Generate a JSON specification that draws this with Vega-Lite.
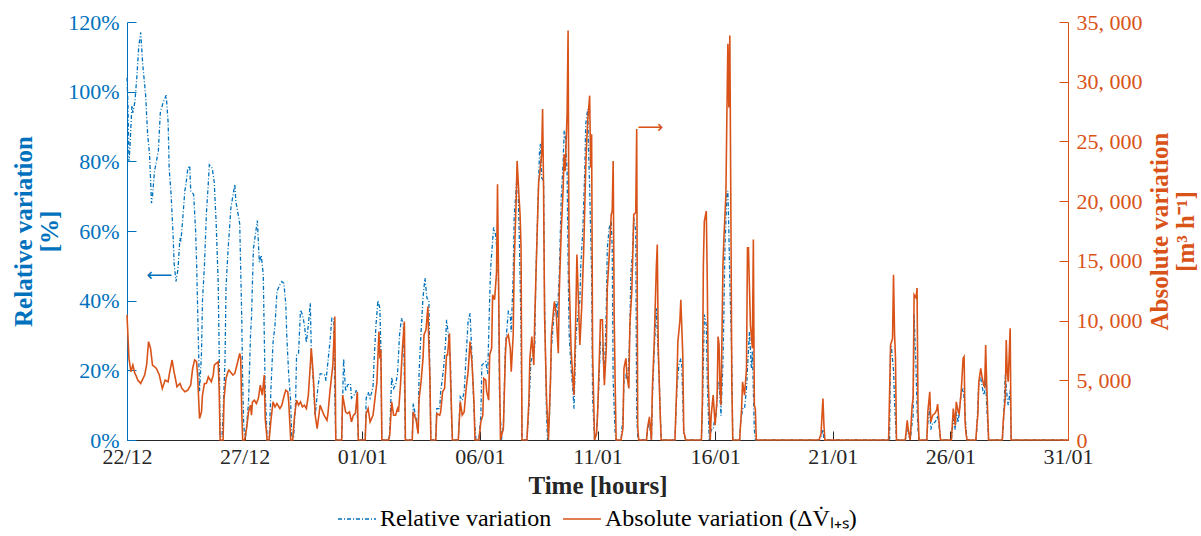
{
 "$schema": "https://vega.github.io/schema/vega-lite/v6.json",
 "width": 941, "height": 418,
 "autosize": {"type": "none"},
 "padding": {"left": 127, "top": 22, "right": 133, "bottom": 96},
 "background": "white",
 "config": {
  "font": "Liberation Serif",
  "view": {"stroke": null},
  "axis": {"grid": false, "labelFont": "Liberation Serif", "labelFontSize": 22, "titleFont": "Liberation Serif", "titleFontSize": 25, "titleFontWeight": "bold", "tickSize": -9, "labelPadding": 17, "domainWidth": 1, "tickWidth": 1, "labelFlush": false, "labelOverlap": false, "titleLineHeight": 26},
  "legend": {"orient": "none", "legendX": 210, "legendY": 477, "direction": "horizontal", "title": null, "symbolType": "stroke", "symbolSize": 1444, "symbolStrokeWidth": 1.5, "labelFontSize": 24, "labelFont": "Liberation Serif", "labelColor": "#000000", "labelLimit": 0, "columnPadding": 8, "labelOffset": 3, "padding": 0}
 },
 "datasets": {
  "rel": [
   {"h":0,"v":104},{"h":1,"v":96},{"h":2,"v":80},{"h":3,"v":84},{"h":5,"v":96},{"h":6,"v":94},{"h":8,"v":97},{"h":10,"v":104},{"h":12,"v":113},{"h":14,"v":117},{"h":16,"v":108},{"h":19,"v":99},{"h":21,"v":88},{"h":23,"v":82},{"h":25,"v":68},{"h":26,"v":70},{"h":28,"v":77},{"h":30,"v":80},{"h":32,"v":83},{"h":34,"v":94},{"h":37,"v":97},{"h":40,"v":99},{"h":42,"v":91},{"h":43,"v":78},{"h":45,"v":70.5},{"h":47,"v":59},{"h":48,"v":51},{"h":50,"v":45.5},{"h":52,"v":49},{"h":54,"v":58},{"h":55,"v":57},{"h":57,"v":64},{"h":59,"v":71.5},{"h":60,"v":73},{"h":62,"v":78},{"h":64,"v":78.7},{"h":65,"v":71.5},{"h":68,"v":70.5},{"h":70,"v":60},{"h":71,"v":51},{"h":73,"v":26},{"h":74,"v":14},{"h":76,"v":25},{"h":77,"v":40},{"h":79,"v":50},{"h":81,"v":65},{"h":83,"v":74},{"h":84,"v":79},{"h":87,"v":78},{"h":89,"v":74},{"h":91,"v":62},{"h":93,"v":45.5},{"h":94,"v":26},{"h":95,"v":1},{"h":97,"v":1},{"h":98,"v":7},{"h":100,"v":23},{"h":101,"v":43.6},{"h":103,"v":54},{"h":106,"v":66.7},{"h":108,"v":70},{"h":110,"v":73.4},{"h":111,"v":68.6},{"h":114,"v":63.8},{"h":115,"v":62},{"h":117,"v":36},{"h":118,"v":17},{"h":119,"v":5},{"h":120,"v":1},{"h":121,"v":1},{"h":122,"v":4},{"h":124,"v":11},{"h":126,"v":30},{"h":127,"v":35},{"h":129,"v":55},{"h":131,"v":59},{"h":133,"v":63},{"h":135,"v":51},{"h":137,"v":53},{"h":139,"v":47.5},{"h":141,"v":14},{"h":143,"v":0},{"h":145,"v":0},{"h":147,"v":15.8},{"h":149,"v":28},{"h":151,"v":33},{"h":153,"v":42.7},{"h":156,"v":44.6},{"h":158,"v":45.5},{"h":160,"v":45},{"h":162,"v":39},{"h":163,"v":30},{"h":165,"v":18.6},{"h":167,"v":11},{"h":168,"v":1},{"h":170,"v":1},{"h":172,"v":11},{"h":173,"v":24.4},{"h":175,"v":24.9},{"h":177,"v":37.4},{"h":179,"v":36},{"h":181,"v":33},{"h":183,"v":28},{"h":185,"v":33},{"h":187,"v":39.3},{"h":188,"v":26.3},{"h":190,"v":16.7},{"h":192,"v":7},{"h":195,"v":15.8},{"h":197,"v":19},{"h":200,"v":19},{"h":202,"v":18.6},{"h":203,"v":17},{"h":205,"v":22.5},{"h":207,"v":28},{"h":209,"v":35},{"h":211,"v":35},{"h":212,"v":12},{"h":213,"v":0},{"h":219,"v":0},{"h":221,"v":23.4},{"h":223,"v":14},{"h":225,"v":15.8},{"h":228,"v":16.2},{"h":229,"v":12},{"h":232,"v":13},{"h":234,"v":14.3},{"h":236,"v":0},{"h":243,"v":0},{"h":244,"v":12},{"h":246,"v":13.8},{"h":248,"v":12},{"h":251,"v":15.3},{"h":252,"v":22.5},{"h":254,"v":33},{"h":256,"v":40},{"h":258,"v":37.8},{"h":259,"v":26.3},{"h":260,"v":0},{"h":267,"v":0},{"h":268,"v":2},{"h":270,"v":18},{"h":272,"v":14.8},{"h":274,"v":15.8},{"h":276,"v":19},{"h":278,"v":30},{"h":280,"v":35},{"h":282,"v":33},{"h":284,"v":0},{"h":291,"v":0},{"h":292,"v":10.5},{"h":295,"v":6},{"h":297,"v":2},{"h":298,"v":19.6},{"h":300,"v":31},{"h":302,"v":41},{"h":304,"v":46.5},{"h":306,"v":40.7},{"h":308,"v":40},{"h":309,"v":17.7},{"h":310,"v":0},{"h":315,"v":0},{"h":316,"v":9},{"h":319,"v":9},{"h":320,"v":13.8},{"h":323,"v":20.6},{"h":325,"v":28},{"h":326,"v":34.5},{"h":328,"v":30},{"h":330,"v":22.5},{"h":331,"v":7},{"h":332,"v":0},{"h":338,"v":0},{"h":340,"v":12.4},{"h":342,"v":11.4},{"h":344,"v":13.8},{"h":346,"v":24.4},{"h":348,"v":34},{"h":350,"v":36.4},{"h":352,"v":23.4},{"h":354,"v":8},{"h":356,"v":0},{"h":359,"v":0},{"h":361,"v":7},{"h":362,"v":21.5},{"h":364,"v":22},{"h":366,"v":22.5},{"h":368,"v":19},{"h":370,"v":40.7},{"h":371,"v":49.4},{"h":374,"v":61},{"h":376,"v":59},{"h":378,"v":53},{"h":379,"v":45.5},{"h":380,"v":12.9},{"h":382,"v":0},{"h":384,"v":4},{"h":386,"v":26.3},{"h":387,"v":30},{"h":389,"v":36.9},{"h":391,"v":36},{"h":392,"v":31},{"h":394,"v":47.5},{"h":395,"v":63.8},{"h":398,"v":76.3},{"h":399,"v":72.4},{"h":400,"v":61},{"h":401,"v":47.5},{"h":402,"v":31},{"h":403,"v":0},{"h":408,"v":0},{"h":410,"v":9},{"h":412,"v":22.5},{"h":414,"v":24.4},{"h":416,"v":26.3},{"h":417,"v":45.5},{"h":419,"v":65.7},{"h":421,"v":84},{"h":422,"v":85},{"h":423,"v":75.3},{"h":425,"v":74.4},{"h":426,"v":40.7},{"h":428,"v":7},{"h":429,"v":0},{"h":431,"v":7},{"h":433,"v":26.3},{"h":434,"v":30},{"h":436,"v":37.8},{"h":438,"v":39.8},{"h":439,"v":35},{"h":441,"v":47.5},{"h":443,"v":69.5},{"h":445,"v":80},{"h":446,"v":88.8},{"h":447,"v":87.8},{"h":449,"v":77.2},{"h":450,"v":51.3},{"h":451,"v":31},{"h":453,"v":20.6},{"h":455,"v":13.8},{"h":456,"v":9},{"h":458,"v":30},{"h":460,"v":36},{"h":462,"v":39.8},{"h":463,"v":50.3},{"h":465,"v":60},{"h":467,"v":77.2},{"h":468,"v":90.7},{"h":470,"v":95},{"h":471,"v":82},{"h":472,"v":72.4},{"h":474,"v":47.5},{"h":475,"v":12},{"h":477,"v":0},{"h":479,"v":2},{"h":481,"v":13},{"h":483,"v":28},{"h":485,"v":27.3},{"h":487,"v":17.7},{"h":489,"v":37.8},{"h":490,"v":55},{"h":492,"v":61},{"h":494,"v":62.8},{"h":495,"v":55},{"h":496,"v":16.7},{"h":498,"v":2},{"h":499,"v":0},{"h":504,"v":0},{"h":506,"v":7},{"h":507,"v":16.7},{"h":509,"v":18.6},{"h":511,"v":16.7},{"h":513,"v":31},{"h":514,"v":47.5},{"h":516,"v":55},{"h":517,"v":63.8},{"h":519,"v":60},{"h":520,"v":7},{"h":521,"v":1},{"h":523,"v":0},{"h":530,"v":0},{"h":531,"v":3},{"h":533,"v":5},{"h":535,"v":0},{"h":536,"v":12},{"h":538,"v":26.3},{"h":540,"v":37.8},{"h":541,"v":31},{"h":543,"v":16.7},{"h":545,"v":0},{"h":559,"v":0},{"h":561,"v":14.8},{"h":563,"v":21.5},{"h":565,"v":23.4},{"h":566,"v":21.5},{"h":568,"v":2},{"h":570,"v":0},{"h":586,"v":0},{"h":587,"v":8},{"h":589,"v":36},{"h":591,"v":33},{"h":592,"v":16.7},{"h":594,"v":0},{"h":596,"v":3},{"h":598,"v":3},{"h":599,"v":5},{"h":601,"v":7},{"h":603,"v":16.7},{"h":604,"v":16.7},{"h":606,"v":7},{"h":608,"v":22.5},{"h":609,"v":37.8},{"h":610,"v":55},{"h":612,"v":70.5},{"h":613,"v":71.5},{"h":614,"v":60},{"h":615,"v":45.5},{"h":617,"v":23.4},{"h":618,"v":0},{"h":625,"v":0},{"h":626,"v":5},{"h":628,"v":9},{"h":630,"v":9},{"h":632,"v":14.8},{"h":633,"v":20.6},{"h":635,"v":31},{"h":637,"v":20.6},{"h":638,"v":25.4},{"h":640,"v":3},{"h":641,"v":0},{"h":706,"v":0},{"h":708,"v":1},{"h":710,"v":3},{"h":711,"v":0},{"h":778,"v":0},{"h":779,"v":27.3},{"h":780,"v":26.3},{"h":782,"v":20},{"h":783,"v":11},{"h":785,"v":0},{"h":794,"v":0},{"h":796,"v":3},{"h":797,"v":2},{"h":799,"v":0},{"h":801,"v":5},{"h":802,"v":7},{"h":803,"v":36},{"h":805,"v":20},{"h":806,"v":9},{"h":807,"v":3},{"h":808,"v":0},{"h":816,"v":0},{"h":817,"v":5},{"h":819,"v":9},{"h":820,"v":3},{"h":822,"v":5},{"h":824,"v":5},{"h":826,"v":6},{"h":827,"v":7},{"h":829,"v":3},{"h":830,"v":0},{"h":841,"v":0},{"h":843,"v":6},{"h":845,"v":3},{"h":846,"v":8},{"h":848,"v":5},{"h":850,"v":11},{"h":851,"v":13},{"h":853,"v":14.8},{"h":854,"v":12},{"h":856,"v":3},{"h":857,"v":0},{"h":866,"v":0},{"h":867,"v":3},{"h":869,"v":16.7},{"h":871,"v":17.7},{"h":874,"v":12.9},{"h":875,"v":14},{"h":876,"v":18.6},{"h":877,"v":10},{"h":879,"v":0},{"h":893,"v":0},{"h":894,"v":4},{"h":896,"v":18.6},{"h":898,"v":12},{"h":899,"v":10},{"h":901,"v":14.3},{"h":902,"v":0},{"h":960,"v":0}
  ],
  "abs": [
   {"h":0,"v":10480},{"h":2,"v":6837},{"h":4,"v":5716},{"h":6,"v":6276},{"h":8,"v":5576},{"h":9,"v":5436},{"h":11,"v":5016},{"h":14,"v":4735},{"h":18,"v":5436},{"h":20,"v":6276},{"h":22,"v":8238},{"h":24,"v":7677},{"h":26,"v":6276},{"h":30,"v":5996},{"h":33,"v":5436},{"h":36,"v":4315},{"h":39,"v":5016},{"h":42,"v":4875},{"h":43,"v":5436},{"h":46,"v":6697},{"h":48,"v":5716},{"h":51,"v":4455},{"h":54,"v":4735},{"h":56,"v":4315},{"h":59,"v":4035},{"h":62,"v":4175},{"h":65,"v":4595},{"h":67,"v":5996},{"h":69,"v":6697},{"h":71,"v":6557},{"h":72,"v":5436},{"h":74,"v":1793},{"h":76,"v":2354},{"h":77,"v":3755},{"h":79,"v":4735},{"h":81,"v":4735},{"h":83,"v":5296},{"h":86,"v":4875},{"h":88,"v":5436},{"h":89,"v":6276},{"h":91,"v":6417},{"h":93,"v":6557},{"h":94,"v":4315},{"h":95,"v":0},{"h":98,"v":0},{"h":99,"v":3474},{"h":101,"v":5156},{"h":103,"v":5716},{"h":104,"v":5856},{"h":108,"v":5436},{"h":110,"v":5576},{"h":113,"v":6557},{"h":115,"v":7257},{"h":116,"v":6837},{"h":117,"v":2634},{"h":118,"v":0},{"h":120,"v":0},{"h":122,"v":953},{"h":124,"v":2354},{"h":126,"v":2914},{"h":127,"v":2073},{"h":128,"v":3194},{"h":130,"v":3334},{"h":132,"v":3054},{"h":134,"v":3474},{"h":136,"v":4595},{"h":138,"v":3755},{"h":140,"v":5436},{"h":141,"v":1793},{"h":143,"v":0},{"h":145,"v":0},{"h":147,"v":1793},{"h":149,"v":3194},{"h":151,"v":2774},{"h":153,"v":3054},{"h":156,"v":2634},{"h":158,"v":2914},{"h":160,"v":3615},{"h":162,"v":4175},{"h":164,"v":4035},{"h":165,"v":3194},{"h":167,"v":0},{"h":169,"v":0},{"h":171,"v":2073},{"h":173,"v":3334},{"h":175,"v":2914},{"h":177,"v":3194},{"h":179,"v":2774},{"h":181,"v":2914},{"h":183,"v":2634},{"h":185,"v":3755},{"h":187,"v":6276},{"h":188,"v":7677},{"h":190,"v":5436},{"h":192,"v":2073},{"h":194,"v":953},{"h":196,"v":2213},{"h":197,"v":2914},{"h":199,"v":2494},{"h":201,"v":2073},{"h":204,"v":1653},{"h":205,"v":2213},{"h":207,"v":4035},{"h":210,"v":6276},{"h":212,"v":10340},{"h":213,"v":0},{"h":219,"v":0},{"h":220,"v":3755},{"h":223,"v":2354},{"h":225,"v":2213},{"h":227,"v":2354},{"h":229,"v":1513},{"h":231,"v":2073},{"h":233,"v":2213},{"h":235,"v":4035},{"h":236,"v":0},{"h":243,"v":0},{"h":244,"v":2213},{"h":246,"v":2634},{"h":248,"v":1513},{"h":251,"v":2073},{"h":253,"v":3474},{"h":255,"v":4875},{"h":257,"v":9078},{"h":258,"v":6837},{"h":259,"v":7537},{"h":260,"v":0},{"h":267,"v":0},{"h":268,"v":392},{"h":270,"v":3194},{"h":272,"v":2073},{"h":274,"v":2073},{"h":276,"v":2634},{"h":277,"v":2354},{"h":279,"v":4595},{"h":281,"v":7677},{"h":283,"v":9919},{"h":284,"v":0},{"h":291,"v":0},{"h":292,"v":2354},{"h":295,"v":1653},{"h":297,"v":532},{"h":298,"v":3474},{"h":300,"v":4875},{"h":302,"v":6837},{"h":303,"v":8798},{"h":305,"v":9218},{"h":307,"v":11180},{"h":308,"v":7677},{"h":309,"v":5296},{"h":310,"v":0},{"h":315,"v":0},{"h":316,"v":2213},{"h":319,"v":2073},{"h":320,"v":2354},{"h":322,"v":4035},{"h":324,"v":4315},{"h":326,"v":7117},{"h":327,"v":7117},{"h":329,"v":8938},{"h":330,"v":5436},{"h":332,"v":0},{"h":338,"v":0},{"h":340,"v":3194},{"h":342,"v":2073},{"h":344,"v":2354},{"h":346,"v":4315},{"h":348,"v":5716},{"h":350,"v":8238},{"h":352,"v":6417},{"h":354,"v":3194},{"h":355,"v":0},{"h":359,"v":0},{"h":361,"v":1513},{"h":363,"v":2073},{"h":364,"v":5156},{"h":366,"v":5016},{"h":367,"v":4035},{"h":369,"v":3334},{"h":370,"v":7117},{"h":372,"v":7677},{"h":373,"v":12161},{"h":375,"v":11740},{"h":377,"v":14000},{"h":378,"v":21406},{"h":380,"v":6000},{"h":381,"v":0},{"h":384,"v":1000},{"h":386,"v":7117},{"h":387,"v":8518},{"h":389,"v":8798},{"h":391,"v":7677},{"h":392,"v":5716},{"h":394,"v":8798},{"h":395,"v":14682},{"h":397,"v":20006},{"h":398,"v":23369},{"h":400,"v":20286},{"h":401,"v":18885},{"h":402,"v":16083},{"h":403,"v":0},{"h":408,"v":0},{"h":410,"v":3194},{"h":411,"v":6837},{"h":413,"v":8658},{"h":415,"v":6276},{"h":416,"v":10199},{"h":418,"v":16083},{"h":420,"v":21687},{"h":421,"v":22247},{"h":423,"v":23929},{"h":424,"v":27712},{"h":425,"v":20847},{"h":426,"v":10480},{"h":428,"v":3474},{"h":430,"v":0},{"h":432,"v":4875},{"h":433,"v":8798},{"h":435,"v":10760},{"h":436,"v":11600},{"h":438,"v":10480},{"h":439,"v":8798},{"h":440,"v":7257},{"h":441,"v":12441},{"h":443,"v":17484},{"h":445,"v":21127},{"h":446,"v":23929},{"h":447,"v":22528},{"h":449,"v":27291},{"h":450,"v":34296},{"h":451,"v":13842},{"h":453,"v":7677},{"h":455,"v":4875},{"h":456,"v":3755},{"h":458,"v":11040},{"h":459,"v":15523},{"h":461,"v":10480},{"h":462,"v":7957},{"h":464,"v":11320},{"h":466,"v":16083},{"h":468,"v":22808},{"h":469,"v":25050},{"h":470,"v":26731},{"h":472,"v":28832},{"h":473,"v":22808},{"h":474,"v":25610},{"h":475,"v":7397},{"h":477,"v":0},{"h":479,"v":500},{"h":480,"v":2000},{"h":482,"v":7117},{"h":483,"v":10059},{"h":485,"v":10059},{"h":486,"v":7000},{"h":487,"v":4595},{"h":489,"v":7677},{"h":490,"v":12721},{"h":492,"v":15523},{"h":494,"v":18885},{"h":495,"v":19165},{"h":496,"v":23369},{"h":497,"v":10480},{"h":498,"v":4875},{"h":499,"v":0},{"h":504,"v":0},{"h":506,"v":1000},{"h":507,"v":5996},{"h":509,"v":6837},{"h":510,"v":5436},{"h":512,"v":4315},{"h":513,"v":9639},{"h":515,"v":12441},{"h":516,"v":15523},{"h":517,"v":18885},{"h":519,"v":19025},{"h":520,"v":26031},{"h":521,"v":1233},{"h":522,"v":0},{"h":530,"v":0},{"h":531,"v":1000},{"h":533,"v":1933},{"h":535,"v":0},{"h":536,"v":4315},{"h":538,"v":8518},{"h":540,"v":14402},{"h":541,"v":16363},{"h":542,"v":7677},{"h":544,"v":2073},{"h":545,"v":0},{"h":559,"v":0},{"h":561,"v":4875},{"h":562,"v":8238},{"h":564,"v":9919},{"h":565,"v":11740},{"h":567,"v":7117},{"h":568,"v":700},{"h":570,"v":0},{"h":586,"v":0},{"h":587,"v":3194},{"h":588,"v":14682},{"h":589,"v":18325},{"h":591,"v":19165},{"h":592,"v":13282},{"h":593,"v":4875},{"h":595,"v":0},{"h":596,"v":2073},{"h":598,"v":3755},{"h":600,"v":1233},{"h":602,"v":3474},{"h":603,"v":8658},{"h":604,"v":8000},{"h":605,"v":4315},{"h":606,"v":2914},{"h":608,"v":14682},{"h":609,"v":17000},{"h":611,"v":20567},{"h":612,"v":27291},{"h":613,"v":33176},{"h":614,"v":27852},{"h":615,"v":33877},{"h":616,"v":20286},{"h":617,"v":4875},{"h":618,"v":0},{"h":625,"v":0},{"h":627,"v":2634},{"h":628,"v":4875},{"h":630,"v":3755},{"h":632,"v":5996},{"h":633,"v":16083},{"h":634,"v":16083},{"h":636,"v":9639},{"h":638,"v":7677},{"h":639,"v":16783},{"h":640,"v":2914},{"h":641,"v":2634},{"h":642,"v":0},{"h":706,"v":0},{"h":708,"v":500},{"h":710,"v":3474},{"h":711,"v":1233},{"h":712,"v":0},{"h":777,"v":0},{"h":779,"v":7957},{"h":781,"v":8500},{"h":782,"v":13842},{"h":783,"v":9000},{"h":784,"v":6837},{"h":785,"v":0},{"h":794,"v":0},{"h":796,"v":1653},{"h":797,"v":900},{"h":799,"v":0},{"h":801,"v":2914},{"h":802,"v":3474},{"h":803,"v":12161},{"h":805,"v":11900},{"h":806,"v":12721},{"h":807,"v":2354},{"h":808,"v":0},{"h":816,"v":0},{"h":817,"v":2354},{"h":819,"v":4035},{"h":820,"v":1513},{"h":822,"v":2073},{"h":824,"v":2213},{"h":826,"v":2494},{"h":827,"v":3000},{"h":829,"v":900},{"h":830,"v":0},{"h":841,"v":0},{"h":843,"v":2634},{"h":845,"v":1200},{"h":846,"v":3194},{"h":848,"v":2354},{"h":849,"v":2200},{"h":851,"v":4035},{"h":853,"v":6837},{"h":854,"v":6977},{"h":855,"v":1500},{"h":856,"v":500},{"h":857,"v":0},{"h":866,"v":0},{"h":867,"v":1200},{"h":868,"v":2073},{"h":869,"v":4875},{"h":871,"v":5996},{"h":872,"v":5436},{"h":874,"v":4595},{"h":875,"v":4455},{"h":876,"v":7957},{"h":877,"v":4875},{"h":879,"v":0},{"h":893,"v":0},{"h":894,"v":1653},{"h":896,"v":3474},{"h":897,"v":8378},{"h":898,"v":5716},{"h":899,"v":4875},{"h":901,"v":9359},{"h":902,"v":0},{"h":960,"v":0}
  ]
 },
 "encoding": {
  "x": {"field": "h", "type": "quantitative", "scale": {"domain": [0, 960], "nice": false, "zero": false},
   "axis": {"title": "Time [hours]", "values": [0,120,240,360,480,600,720,840,960], "labelExpr": "['22/12','27/12','01/01','06/01','11/01','16/01','21/01','26/01','31/01'][round(datum.value/120)]", "labelColor": "#262626", "domainColor": "#262626", "tickColor": "#262626", "titleColor": "#262626", "labelPadding": 15, "titlePadding": 6}}
 },
 "layer": [
  {
   "encoding": {
    "y": {"field": "v", "type": "quantitative", "scale": {"domain": [0, 120], "nice": false},
     "axis": {"orient": "left", "values": [0,20,40,60,80,100,120], "labelExpr": "datum.value + '%'", "title": ["Relative variation", "[%]"], "labelColor": "#0072BD", "domainColor": "#0072BD", "tickColor": "#0072BD", "titleColor": "#0072BD", "titlePadding": 5}}
   },
   "layer": [
    {
     "data": {"name": "rel"},
     "mark": {"type": "line", "strokeWidth": 1.3, "interpolate": "linear"},
     "encoding": {
      "color": {"datum": "Relative variation", "type": "nominal", "scale": {"domain": ["Relative variation", "Absolute variation (ΔV̇ₗ₊ₛ)"], "range": ["#0072BD", "#D95319"]}},
      "strokeDash": {"datum": "Relative variation", "type": "nominal", "scale": {"domain": ["Relative variation", "Absolute variation (ΔV̇ₗ₊ₛ)"], "range": [[4, 2, 1, 2], [1, 0]]}}
     }
    },
    {
     "data": {"values": [{"h": 33, "v": 47, "t": "⟵"}]},
     "mark": {"type": "text", "font": "DejaVu Sans", "fontSize": 18, "color": "#0072BD", "baseline": "middle", "align": "center"},
     "encoding": {"text": {"field": "t"}}
    }
   ]
  },
  {
   "encoding": {
    "y": {"field": "v", "type": "quantitative", "scale": {"domain": [0, 35000], "nice": false},
     "axis": {"orient": "right", "values": [0,5000,10000,15000,20000,25000,30000,35000], "labelExpr": "replace(format(datum.value, ','), ',', ', ')", "title": ["Absolute variation", "[m³ h⁻¹]"], "titleAngle": 270, "labelColor": "#D95319", "domainColor": "#D95319", "tickColor": "#D95319", "titleColor": "#D95319", "titlePadding": 4}}
   },
   "layer": [
    {
     "data": {"name": "abs"},
     "mark": {"type": "line", "strokeWidth": 1.6, "interpolate": "linear"},
     "encoding": {
      "color": {"datum": "Absolute variation (ΔV̇ₗ₊ₛ)", "type": "nominal"},
      "strokeDash": {"datum": "Absolute variation (ΔV̇ₗ₊ₛ)", "type": "nominal"}
     }
    },
    {
     "data": {"values": [{"h": 534, "v": 26100, "t": "⟶"}]},
     "mark": {"type": "text", "font": "DejaVu Sans", "fontSize": 18, "color": "#D95319", "baseline": "middle", "align": "center"},
     "encoding": {"text": {"field": "t"}}
    }
   ]
  }
 ],
 "resolve": {"scale": {"y": "independent"}}
}
